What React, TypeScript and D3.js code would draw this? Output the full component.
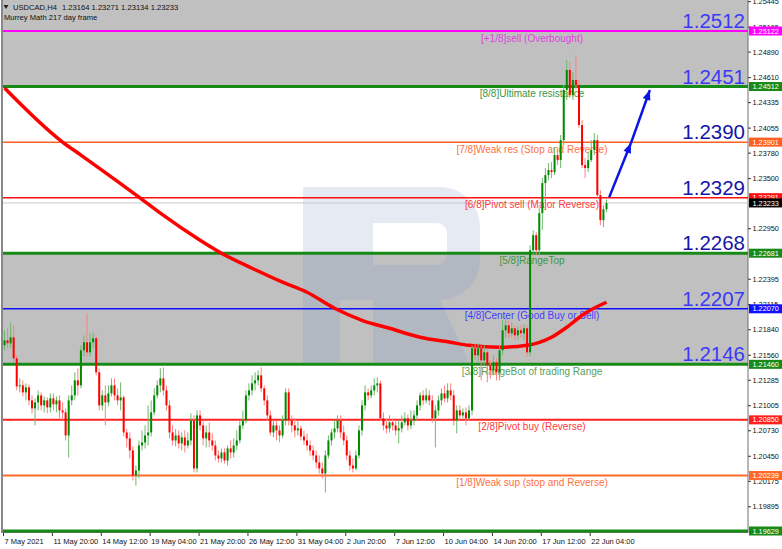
import React from "react";
import * as d3 from "d3";

// ---------- DATA ----------
const symbol = "USDCAD,H4";
const headerOHLC = ["1.23164", "1.23271", "1.23134", "1.23233"];
const indicatorName = "Murrey Math 217 day frame";

const opens = [1.21669,1.21724,1.21691,1.21757,1.21526,1.21218,1.21229,1.21152,1.21207,1.21064,1.20976,1.21042,1.21119,1.21009,1.21064,1.20987,1.21086,1.2102,1.21064,1.20954,1.20932,1.20679,1.21064,1.21119,1.21284,1.21229,1.21614,1.21702,1.21592,1.21702,1.21746,1.21372,1.21009,1.21119,1.21042,1.21141,1.21229,1.21119,1.21064,1.21097,1.20712,1.20646,1.20514,1.20239,1.20294,1.20569,1.20602,1.20679,1.20712,1.20932,1.21119,1.21229,1.21306,1.21174,1.21009,1.20712,1.20624,1.20679,1.20591,1.20657,1.20569,1.20624,1.20844,1.20316,1.20899,1.20789,1.20646,1.20712,1.20624,1.20569,1.20459,1.20426,1.20492,1.20404,1.20536,1.20492,1.20569,1.20624,1.20789,1.20844,1.21119,1.21174,1.21251,1.21284,1.21339,1.21196,1.21064,1.20899,1.20712,1.20789,1.20734,1.20679,1.20844,1.21152,1.20844,1.20789,1.20734,1.20756,1.20668,1.20624,1.20569,1.20514,1.20459,1.20382,1.20316,1.20261,1.20459,1.20624,1.20712,1.20756,1.20844,1.20712,1.20624,1.20459,1.20349,1.20316,1.20459,1.20734,1.21009,1.21152,1.21119,1.21174,1.21229,1.21251,1.20866,1.20789,1.20756,1.20822,1.20789,1.20734,1.20756,1.20822,1.20866,1.20789,1.20844,1.20899,1.21009,1.21119,1.21064,1.21119,1.21064,1.20866,1.20954,1.21064,1.21141,1.21086,1.21174,1.21119,1.20844,1.20954,1.20899,1.20932,1.20866,1.20954,1.21636,1.21559,1.21636,1.21504,1.21592,1.21449,1.21394,1.21482,1.21372,1.21614,1.21834,1.21889,1.21801,1.21856,1.21779,1.21834,1.21801,1.21856,1.21592,1.22714,1.22879,1.22714,1.23121,1.23451,1.23539,1.23594,1.23572,1.23759,1.23704,1.23924,1.24474,1.24694,1.24419,1.24584,1.24529,1.24089,1.23649,1.23616,1.23704,1.23814,1.23924,1.23319,1.23044,1.23164];
const highs = [1.21834,1.21856,1.21922,1.21889,1.21559,1.21306,1.21284,1.21251,1.2124,1.21119,1.21086,1.21174,1.21152,1.21108,1.21097,1.21141,1.21141,1.21108,1.21119,1.21042,1.20976,1.21119,1.21229,1.21372,1.21416,1.21669,1.21779,1.22021,1.21801,1.21812,1.21779,1.21416,1.21174,1.21229,1.21229,1.21306,1.21306,1.21196,1.21262,1.21119,1.2075,1.20712,1.20558,1.20349,1.20624,1.20734,1.20789,1.21009,1.21064,1.21196,1.21284,1.21416,1.21427,1.21229,1.21064,1.20789,1.2075,1.20734,1.20712,1.20734,1.20712,1.20921,1.20899,1.20954,1.20954,1.20844,1.20789,1.20822,1.20701,1.20624,1.20514,1.20536,1.20536,1.20569,1.20624,1.20646,1.20734,1.20844,1.20954,1.21174,1.21251,1.21339,1.21372,1.21394,1.21427,1.21229,1.21119,1.20954,1.20844,1.20844,1.20789,1.20899,1.21196,1.21196,1.20899,1.20866,1.20844,1.20789,1.20734,1.20701,1.20624,1.20569,1.20514,1.20459,1.20382,1.20514,1.20679,1.2075,1.20844,1.20899,1.20899,1.20789,1.20679,1.20514,1.20426,1.20514,1.20789,1.21064,1.21229,1.21196,1.21229,1.21306,1.21317,1.21284,1.20932,1.20866,1.20899,1.20866,1.20844,1.20844,1.20899,1.20932,1.2091,1.20954,1.20954,1.21064,1.21152,1.21174,1.21196,1.21174,1.21119,1.21009,1.21119,1.21196,1.21229,1.21251,1.21251,1.21174,1.21009,1.21009,1.20976,1.20987,1.21009,1.21669,1.21691,1.21691,1.21669,1.21669,1.21636,1.21504,1.21559,1.21526,1.21669,1.21944,1.21966,1.21944,1.21922,1.21889,1.21878,1.21889,1.219,1.21889,1.22769,1.22934,1.22912,1.23176,1.23506,1.23616,1.23671,1.23682,1.23847,1.23814,1.23979,1.24529,1.24804,1.24782,1.24672,1.24859,1.24584,1.24144,1.23726,1.23792,1.23924,1.24001,1.23979,1.23374,1.23209,1.23271];
const lows = [1.21614,1.21636,1.21636,1.21482,1.21174,1.21152,1.21108,1.21064,1.21009,1.20921,1.20789,1.20954,1.20954,1.20932,1.20921,1.20932,1.20954,1.20932,1.20866,1.20844,1.20624,1.20437,1.21009,1.21064,1.21119,1.21196,1.21548,1.21548,1.21548,1.21636,1.21339,1.20954,1.20954,1.20789,1.20998,1.21108,1.21064,1.21009,1.20954,1.20668,1.20547,1.20426,1.20184,1.20129,1.20206,1.20514,1.20536,1.20569,1.20668,1.20899,1.21086,1.21152,1.21119,1.20954,1.20646,1.20569,1.20558,1.20536,1.20514,1.20492,1.20536,1.20569,1.20272,1.20272,1.20734,1.20569,1.20547,1.20547,1.20514,1.20404,1.20382,1.20382,1.20371,1.20349,1.20426,1.20437,1.20514,1.20591,1.2075,1.20811,1.21064,1.21119,1.21174,1.21229,1.21152,1.21009,1.20844,1.20679,1.20657,1.20624,1.20602,1.20646,1.20789,1.20789,1.20712,1.20657,1.20679,1.20624,1.20569,1.20514,1.20459,1.20404,1.20316,1.20261,1.20206,1.20052,1.20426,1.20569,1.20646,1.20712,1.20646,1.20569,1.20404,1.20294,1.20272,1.20294,1.20426,1.20679,1.20954,1.21064,1.21086,1.21119,1.21152,1.20844,1.20734,1.20701,1.20712,1.20734,1.20679,1.20591,1.20712,1.20789,1.20734,1.2075,1.20789,1.20844,1.20954,1.21009,1.21031,1.21009,1.20822,1.20547,1.20899,1.21009,1.21042,1.21042,1.21064,1.20789,1.20701,1.20844,1.20866,1.20789,1.20844,1.20899,1.21504,1.21482,1.21284,1.21449,1.21262,1.21306,1.21339,1.21284,1.21284,1.21559,1.21746,1.21746,1.21757,1.21724,1.21724,1.21746,1.21724,1.21548,1.21548,1.22659,1.22659,1.22659,1.22934,1.23231,1.23484,1.23506,1.23539,1.23649,1.23616,1.23869,1.24364,1.24386,1.24364,1.24474,1.24056,1.23616,1.23506,1.23572,1.23682,1.23759,1.23286,1.22989,1.22967,1.23134];
const closes = [1.21724,1.21691,1.21757,1.21526,1.21218,1.21229,1.21152,1.21207,1.21064,1.20976,1.21042,1.21119,1.21009,1.21064,1.20987,1.21086,1.2102,1.21064,1.20954,1.20932,1.20679,1.21064,1.21119,1.21284,1.21229,1.21614,1.21702,1.21592,1.21702,1.21746,1.21372,1.21009,1.21119,1.21042,1.21141,1.21229,1.21119,1.21064,1.21097,1.20712,1.20646,1.20514,1.20239,1.20294,1.20569,1.20602,1.20679,1.20712,1.20932,1.21119,1.21229,1.21306,1.21174,1.21009,1.20712,1.20624,1.20679,1.20591,1.20657,1.20569,1.20624,1.20844,1.20316,1.20899,1.20789,1.20646,1.20712,1.20624,1.20569,1.20459,1.20426,1.20492,1.20404,1.20536,1.20492,1.20569,1.20624,1.20789,1.20844,1.21119,1.21174,1.21251,1.21284,1.21339,1.21196,1.21064,1.20899,1.20712,1.20789,1.20734,1.20679,1.20844,1.21152,1.20844,1.20789,1.20734,1.20756,1.20668,1.20624,1.20569,1.20514,1.20459,1.20382,1.20316,1.20261,1.20459,1.20624,1.20712,1.20756,1.20844,1.20712,1.20624,1.20459,1.20349,1.20316,1.20459,1.20734,1.21009,1.21152,1.21119,1.21174,1.21229,1.21251,1.20866,1.20789,1.20756,1.20822,1.20789,1.20734,1.20756,1.20822,1.20866,1.20789,1.20844,1.20899,1.21009,1.21119,1.21064,1.21119,1.21064,1.20866,1.20954,1.21064,1.21141,1.21086,1.21174,1.21119,1.20844,1.20954,1.20899,1.20932,1.20866,1.20954,1.21636,1.21559,1.21636,1.21504,1.21592,1.21449,1.21394,1.21482,1.21372,1.21614,1.21834,1.21889,1.21801,1.21856,1.21779,1.21834,1.21801,1.21856,1.21592,1.22714,1.22879,1.22714,1.23121,1.23451,1.23539,1.23594,1.23572,1.23759,1.23704,1.23924,1.24474,1.24694,1.24419,1.24584,1.24529,1.24089,1.23649,1.23616,1.23704,1.23814,1.23924,1.23319,1.23044,1.23164,1.23233];

// 217-period moving average, read at several bars
const maBars = [0, 19, 25, 44, 51, 64, 71, 81, 91, 99, 108, 117, 126, 136, 146, 152, 162, 171, 179, 184, 190, 197];
const maValues = [1.24496, 1.23902, 1.23759, 1.23297, 1.23121, 1.22824, 1.22681, 1.22516, 1.22362, 1.22252, 1.22076, 1.21944, 1.21856, 1.21757, 1.21702, 1.21669, 1.21647, 1.21669, 1.21757, 1.21867, 1.22021, 1.22142];

// Murrey math levels
const levelValues = [1.25122, 1.24512, 1.23901, 1.23291, 1.22681, 1.2207, 1.2146, 1.2085, 1.20239, 1.19629];
const levelNames = [
  "[+1/8]sell (Overbought)",
  "[8/8]Ultimate resistance",
  "[7/8]Weak res (Stop and Reverse)",
  "[6/8]Pivot sell (Major Reverse)",
  "[5/8]RangeTop",
  "[4/8]Center (Good Buy or Sell)",
  "[3/8]RangeBot of trading Range",
  "[2/8]Pivot buy (Reverse)",
  "[1/8]Weak sup (stop and Reverse)",
  "",
];
const levelColors = ["#ff00ff", "#178a17", "#ff5f1f", "#ff1010", "#178a17", "#1010ff", "#178a17", "#ff2020", "#ff6a2a", "#178a17"];
const levelTextColors = ["#e040e0", "#3e963e", "#ff7040", "#ff3a3a", "#3e963e", "#4040ff", "#5a9e5a", "#ff3a3a", "#ff7040", "#3e963e"];
const levelWidths = [2, 3, 1.5, 1.5, 3, 1.5, 3, 2, 2, 3];
const bigLabels = ["1.2512", "1.2451", "1.2390", "1.2329", "1.2268", "1.2207", "1.2146"];
const bigLabelColors = ["#3a3af5", "#3a3af5", "#1616a8", "#1616a8", "#1616a8", "#3a3af5", "#3a3af5"];
const grayZones = [[1.2547, 1.24512], [1.22681, 1.2146]];
const currentPrice = 1.23233;

// axis ticks that stay visible (others are hidden behind the coloured level boxes)
const priceTicks = [1.25445, 1.25165, 1.2489, 1.2461, 1.24335, 1.24055, 1.2378, 1.235, 1.2295, 1.22395, 1.22115, 1.2184, 1.2156, 1.21285, 1.21005, 1.2073, 1.2045, 1.20175, 1.19895];
const timeLabels = ["7 May 2021", "11 May 20:00", "14 May 12:00", "19 May 04:00", "21 May 20:00", "26 May 12:00", "31 May 04:00", "2 Jun 20:00", "7 Jun 12:00", "10 Jun 04:00", "14 Jun 20:00", "17 Jun 12:00", "22 Jun 04:00"];
const timeLabelBars = [0, 16, 32, 48, 64, 80, 96, 112, 128, 144, 160, 176, 192];

// forecast arrows (bar index, price)
const arrows = [
  { from: [197.9, 1.23297], to: [205.0, 1.23891] },
  { from: [205.0, 1.23891], to: [211.2, 1.24474] },
];

// ---------- LAYOUT ----------
const W = 782;
const H = 549;
const L = 3;
const R = 748;
const B = 531;
const FONT = "'Liberation Sans', Arial, sans-serif";

export default function App() {
  const y = d3.scaleLinear().domain([1.19629, 1.25122]).range([B, 31]);
  const x = d3.scaleLinear().domain([0, 197]).range([4.5, 606.5]);
  const fmt = d3.format(".5f");

  const maLine = d3
    .line<number>()
    .x((_, i) => x(maBars[i]))
    .y((d) => y(d))
    .curve(d3.curveMonotoneX)(maValues) as string;

  const arrowHead = (x1: number, y1: number, x2: number, y2: number) => {
    const ang = Math.atan2(y2 - y1, x2 - x1);
    const len = 10, wid = 4;
    const bx = x2 - len * Math.cos(ang), by = y2 - len * Math.sin(ang);
    const px = -Math.sin(ang) * wid, py = Math.cos(ang) * wid;
    return `M${x2},${y2}L${bx + px},${by + py}L${bx - px},${by - py}Z`;
  };

  const boxLabels = levelValues.map((v, i) => ({ v, color: levelColors[i], text: "#fff" }));
  boxLabels.push({ v: currentPrice, color: "#000", text: "#fff" });

  return (
    <svg
      width={W}
      height={H}
      viewBox={`0 0 ${W} ${H}`}
      style={{ position: "absolute", left: 0, top: 0, background: "#fff" }}
      fontFamily={FONT}
    >
      <rect x={0} y={0} width={W} height={H} fill="#fff" />
      {grayZones.map((z, i) => (
        <rect key={i} x={L} y={Math.max(0, y(z[0]))} width={R - L} height={y(z[1]) - Math.max(0, y(z[0]))} fill="#c0c0c0" />
      ))}

      {/* watermark */}
      <g fill="#7f9cc8" opacity={0.2}>
        <rect x={303} y={187} width={37} height={177} />
        <path
          fillRule="evenodd"
          d="M340,187H440A40,40 0 0 1 480,227V260A40,40 0 0 1 440,300H340Z M373,223H437A10,10 0 0 1 447,233V255A10,10 0 0 1 437,265H373Z"
        />
        <path d="M373,300H440L470,364H373Z" />
      </g>

      {/* frame */}
      <line x1={2} y1={0} x2={2} y2={B + 2} stroke="#606060" strokeWidth={1.5} />
      <line x1={R} y1={0} x2={R} y2={B + 2} stroke="#707070" strokeWidth={1} />
      <line x1={L} y1={B + 1.5} x2={R} y2={B + 1.5} stroke="#707070" strokeWidth={1} />

      <line x1={L} x2={R} y1={y(currentPrice)} y2={y(currentPrice)} stroke="#c8c8c8" strokeWidth={1} />

      {levelValues.map((v, i) => (
        <line key={i} x1={L} x2={R} y1={y(v)} y2={y(v)} stroke={levelColors[i]} strokeWidth={levelWidths[i]} />
      ))}

      {levelNames.map((n, i) =>
        n ? (
          <text key={i} x={532} y={y(levelValues[i]) + 10.5} fontSize={10} textAnchor="middle" fill={levelTextColors[i]}>
            {n}
          </text>
        ) : null
      )}

      {bigLabels.map((t, i) => (
        <text key={i} x={745} y={y(levelValues[i]) - 3} fontSize={20.5} textAnchor="end" fill={bigLabelColors[i]}>
          {t}
        </text>
      ))}

      <path d={maLine} fill="none" stroke="#ff0000" strokeWidth={3.5} strokeLinejoin="round" />

      {closes.map((c, i) => {
        const o = opens[i];
        const up = c >= o;
        const col = up ? "#008a00" : "#ff0000";
        const wick = up ? "#6fb86f" : "#ff8080";
        const top = y(Math.max(o, c));
        const bot = y(Math.min(o, c));
        const cx = x(i);
        return (
          <g key={i}>
            <line x1={cx} x2={cx} y1={y(highs[i])} y2={y(lows[i])} stroke={wick} strokeWidth={1} />
            <rect x={cx - 1} y={top} width={2} height={Math.max(1, bot - top)} fill={col} />
          </g>
        );
      })}

      {arrows.map((a, i) => {
        const x1 = x(a.from[0]), y1 = y(a.from[1]), x2 = x(a.to[0]), y2 = y(a.to[1]);
        return (
          <g key={i}>
            <line x1={x1} y1={y1} x2={x2} y2={y2} stroke="#0a14e6" strokeWidth={2.5} />
            <path d={arrowHead(x1, y1, x2, y2)} fill="#0a14e6" />
          </g>
        );
      })}

      <path d="M3.5,5L8.5,5L6,9Z" fill="#202020" />
      <text x={13} y={9.8} fontSize={7.6} fill="#101010">{symbol}</text>
      <text x={62} y={9.8} fontSize={7.6} fill="#101010">{headerOHLC.join(" ")}</text>
      <text x={4} y={19.8} fontSize={7.6} fill="#101010">{indicatorName}</text>

      {priceTicks.map((p, i) => (
        <g key={i}>
          <line x1={R} x2={R + 3} y1={y(p)} y2={y(p)} stroke="#333" />
          <text x={R + 4.5} y={y(p) + 2.6} fontSize={7.3} fill="#111">{fmt(p)}</text>
        </g>
      ))}
      {boxLabels.map((b, i) => (
        <g key={i}>
          <rect x={R + 1} y={y(b.v) - 4.5} width={33} height={9} fill={b.color} />
          <text x={R + 4.5} y={y(b.v) + 2.6} fontSize={7.3} fill={b.text}>{fmt(b.v)}</text>
        </g>
      ))}

      {timeLabels.map((t, i) => {
        const tx = x(timeLabelBars[i]) - 1;
        return (
          <g key={i}>
            <line x1={tx} x2={tx} y1={B + 2} y2={B + 5} stroke="#333" />
            <text x={tx + 1} y={544} fontSize={7.5} fill="#111">{t}</text>
          </g>
        );
      })}
    </svg>
  );
}
